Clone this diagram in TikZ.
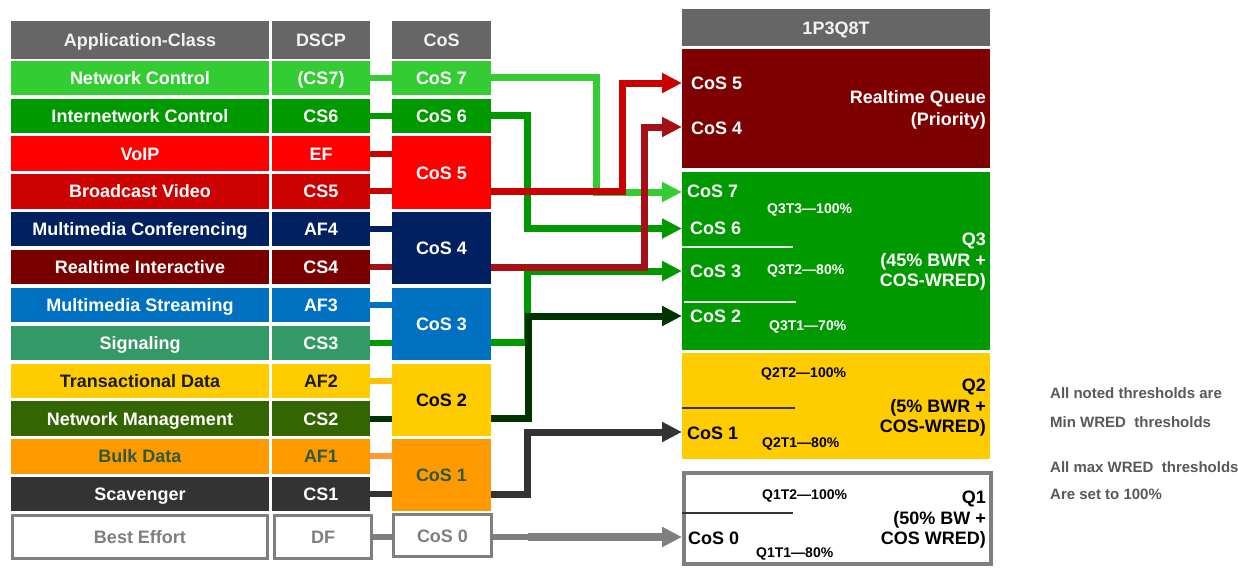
\documentclass[tikz,border=0pt]{standalone}
\usepackage{fontspec}
\setmainfont{Liberation Sans}
\usetikzlibrary{arrows.meta}
\definecolor{hdr}{HTML}{666666}
\definecolor{cNC}{HTML}{33CC33}
\definecolor{cIC}{HTML}{009900}
\definecolor{cVO}{HTML}{FF0000}
\definecolor{cBV}{HTML}{CC0000}
\definecolor{cMC}{HTML}{002060}
\definecolor{cRI}{HTML}{7A0000}
\definecolor{cMS}{HTML}{0070C0}
\definecolor{cSG}{HTML}{339966}
\definecolor{cTD}{HTML}{FFCC00}
\definecolor{cNM}{HTML}{336600}
\definecolor{cBD}{HTML}{FF9900}
\definecolor{cSC}{HTML}{333333}
\definecolor{cBE}{HTML}{7F7F7F}
\definecolor{cRT}{HTML}{7F0000}
\definecolor{lRed}{HTML}{C80000}
\definecolor{lDRed}{HTML}{A50F15}
\definecolor{lDGreen}{HTML}{003300}
\definecolor{lOrange}{HTML}{FF9933}
\definecolor{lYellow}{HTML}{FFC000}
\definecolor{bulkText}{HTML}{2F5A3C}
\definecolor{noteText}{HTML}{595959}
\definecolor{tdText}{HTML}{1A1A1A}
\begin{document}
\begin{tikzpicture}[x=1pt,y=-1pt,
  cell/.style={inner sep=0pt, outer sep=0pt, font=\fontsize{18}{20}\selectfont\bfseries, text=white, minimum height=34.3pt, text height=13pt, text depth=0pt},
  acol/.style={cell, minimum width=258pt},
  dcol/.style={cell, minimum width=98pt},
  ccol/.style={cell, minimum width=99pt},
  hcell/.style={cell, fill=hdr, text=white!95!black, minimum height=38pt},
  becell/.style={draw=cBE, line width=3pt, fill=white, inner sep=0pt, text=cBE, font=\fontsize{18}{20}\selectfont\bfseries, minimum height=43pt, text height=13pt, text depth=0pt},
  conn/.style={line width=7pt},
  link/.style={line width=6pt},
  tip/.style={-{Triangle[length=20pt,width=19pt]}},
  qlbl/.style={anchor=west, inner sep=0pt, font=\fontsize{18}{20}\selectfont\bfseries, text height=13pt, text depth=0pt},
  thr/.style={anchor=west, inner sep=0pt, font=\fontsize{14}{16}\selectfont\bfseries, text height=10pt, text depth=0pt},
  qname/.style={anchor=east, inner sep=0pt, align=right, font=\fontsize{18}{20.5}\selectfont\bfseries},
  note/.style={anchor=west, inner sep=0pt, text=noteText, font=\fontsize{15}{17}\selectfont\bfseries, text height=11pt, text depth=0pt},
  qbox/.style={inner sep=0pt, outer sep=0pt, anchor=north west, minimum width=308pt}
]
\fill[white] (0,0) rectangle (1238,568);
\useasboundingbox (0,0) rectangle (1238,568);

% headers
\node[hcell, minimum width=258pt] (hApp) at (140,39.5) {Application-Class};
\node[hcell, minimum width=98pt] (hDscp) at (321,39.5) {DSCP};
\node[hcell, minimum width=99pt] (hCos) at (441.5,39.5) {CoS};
\node[hcell, minimum width=308pt, minimum height=37pt] (hQ) at (836,27.5) {1P3Q8T};

% table rows
\foreach \i/\app/\dscp/\fc/\tc in {
  0/Network Control/(CS7)/cNC/white,
  1/Internetwork Control/CS6/cIC/white,
  2/VoIP/EF/cVO/white,
  3/Broadcast Video/CS5/cBV/white,
  4/Multimedia Conferencing/AF4/cMC/white,
  5/Realtime Interactive/CS4/cRI/white,
  6/Multimedia Streaming/AF3/cMS/white,
  7/Signaling/CS3/cSG/white,
  8/Transactional Data/AF2/cTD/tdText,
  9/Network Management/CS2/cNM/white,
  10/Bulk Data/AF1/cBD/bulkText,
  11/Scavenger/CS1/cSC/white}{
  \pgfmathsetmacro{\yc}{77.9+37.85*\i}
  \node[acol, fill=\fc, text=\tc] (a\i) at (140,\yc) {\app};
  \node[dcol, fill=\fc, text=\tc] (d\i) at (321,\yc) {\dscp};
}
\node[becell, minimum width=255pt] (a12) at (140,536.5) {Best Effort};
\node[becell, minimum width=97pt] (d12) at (323,536.5) {DF};

% CoS column
\node[ccol, fill=cNC] (c7) at (441.5,77.9) {CoS 7};
\node[ccol, fill=cIC] (c6) at (441.5,115.75) {CoS 6};
\node[ccol, fill=cVO, minimum height=72.15pt] (c5) at (441.5,172.5) {CoS 5};
\node[ccol, fill=cMC, minimum height=72.15pt] (c4) at (441.5,248.2) {CoS 4};
\node[ccol, fill=cMS, minimum height=72.15pt] (c3) at (441.5,323.9) {CoS 3};
\node[ccol, fill=cTD, text=black, minimum height=72.15pt] (c2) at (441.5,399.6) {CoS 2};
\node[ccol, fill=cBD, text=bulkText, minimum height=72.15pt] (c1) at (441.5,475.3) {CoS 1};
\node[becell, minimum width=98pt, minimum height=42pt] (c0) at (442.5,535.5) {CoS 0};

% short links DSCP -> CoS
\foreach \i/\lc/\tgt in {0/cNC/c7, 1/cIC/c6, 2/lRed/c5, 3/lRed/c5, 4/cMC/c4, 5/lDRed/c4, 6/cMS/c3, 7/cIC/c3, 8/lYellow/c2, 9/lDGreen/c2, 10/lOrange/c1, 11/cSC/c1, 12/cBE/c0}{
  \draw[link, \lc] (d\i.east) -- (d\i.east -| \tgt.west);
}

% queues
\node[qbox, fill=cRT, minimum height=119pt] (rtq) at (682,49) {};
\node[qbox, fill=cIC, minimum height=178pt] (q3) at (682,172) {};
\node[qbox, fill=cTD, minimum height=106pt] (q2) at (682,353) {};
\node[draw=cBE, line width=4pt, fill=white, inner sep=0pt, anchor=north west, minimum width=307pt, minimum height=91pt] (q1) at (682,471) {};

% separators
\draw[white!85!gray, line width=1.5pt] (q3.west |- 0,247) -- (793,247);
\draw[white!85!gray, line width=1.5pt] (684,302) -- (796,302);
\draw[black!80, line width=1.5pt] (q2.west |- 0,408) -- (795,408);
\draw[black!80, line width=1.5pt] (q1.west |- 0,513) -- (793,513);

% main connectors
\draw[conn, tip, cNC] (c7.east) -| (596,192) -- (q3.west |- 0,192);
\draw[conn, tip, cIC] (c6.east) -| (527.5,228.5) -- (q3.west |- 0,228.5);
\draw[conn, tip, cIC] (c3.east |- 0,342) -| (527.5,271) -- (q3.west |- 0,271);
\draw[conn, tip, lDGreen] (c2.east |- 0,418) -| (528,316) -- (q3.west |- 0,316);
\draw[conn, tip, cSC] (c1.east |- 0,494) -| (527,432) -- (q2.west |- 0,432);
\coordinate (g0) at (528,537);
\draw[line width=6pt, cBE] (c0.east |- g0) -- (g0);
\draw[line width=8pt, cBE, tip] (g0) -- (q1.west |- g0);
\draw[conn, tip, lRed] (c5.east |- 0,191) -| (622,83) -- (rtq.west |- 0,83);
\draw[conn, tip, lDRed] (c4.east |- 0,267) -| (644.5,127) -- (rtq.west |- 0,127);

% queue labels
\node[qlbl, text=white] (l5) at (691,83) {CoS 5};
\node[qlbl, text=white] (l4) at (691,128) {CoS 4};
\node[qname, text=white, font=\fontsize{18}{22}\selectfont\bfseries] (nrt) at (986,110) {Realtime Queue\\(Priority)};

\node[qlbl, text=white] (l7) at (687,191) {CoS 7};
\node[qlbl, text=white] (l6) at (690,228) {CoS 6};
\node[qlbl, text=white] (l3) at (690,271) {CoS 3};
\node[qlbl, text=white] (l2) at (690,316) {CoS 2};
\node[thr, text=white] (t33) at (767,208) {Q3T3—100\%};
\node[thr, text=white] (t32) at (767,269) {Q3T2—80\%};
\node[thr, text=white] (t31) at (769,325) {Q3T1—70\%};
\node[qname, text=white] (nq3) at (986,262) {Q3\\(45\% BWR +\\COS-WRED)};

\node[thr, text=black] (t22) at (761,372) {Q2T2—100\%};
\node[qlbl, text=black] (l1) at (687,433) {CoS 1};
\node[thr, text=black] (t21) at (762,442) {Q2T1—80\%};
\node[qname, text=black] (nq2) at (986,408) {Q2\\(5\% BWR +\\COS-WRED)};

\node[thr, text=black] (t12) at (762,494) {Q1T2—100\%};
\node[qlbl, text=black] (l0) at (688,538) {CoS 0};
\node[thr, text=black] (t11) at (756,552) {Q1T1—80\%};
\node[qname, text=black] (nq1) at (986,520) {Q1\\(50\% BW +\\COS WRED)};

% notes
\node[note] (n1) at (1050,393) {All noted thresholds are};
\node[note] (n2) at (1050,422) {Min WRED\ \ thresholds};
\node[note] (n3) at (1050,467) {All max WRED\ \ thresholds};
\node[note] (n4) at (1050,494) {Are set to 100\%};
\end{tikzpicture}
\end{document}
